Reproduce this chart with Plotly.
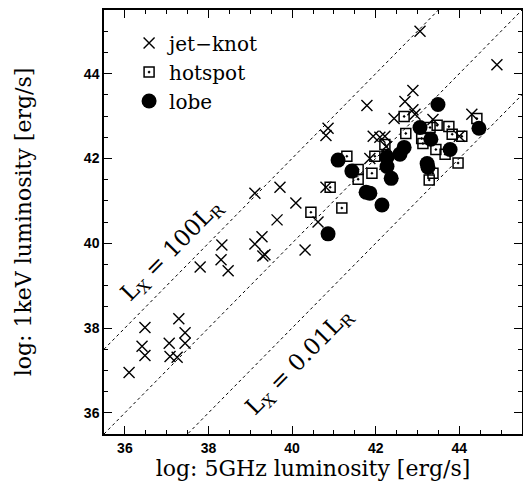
import plotly.graph_objects as go

# jet-knot
jet_x = [36.10, 36.48, 36.41, 36.48, 37.06, 37.08, 37.25, 37.29, 37.44, 37.44,
         37.80, 38.30, 38.47, 38.32, 39.11, 39.35, 39.30, 39.28, 39.64, 39.11,
         39.71, 40.09, 40.31, 40.62, 40.81, 40.81, 40.86, 41.79, 42.89, 42.70,
         42.89, 42.94, 42.44, 43.37, 44.30, 41.94, 42.10, 42.22, 44.00, 42.25,
         41.86, 43.06, 44.90, 42.22]
jet_y = [36.95, 38.01, 37.57, 37.35, 37.64, 37.33, 37.31, 38.22, 37.89, 37.64,
         39.44, 39.61, 39.35, 39.96, 39.98, 39.73, 39.70, 40.15, 40.55, 41.18,
         41.32, 40.95, 39.84, 40.50, 41.32, 42.54, 42.71, 43.25, 43.60, 43.34,
         43.15, 43.04, 42.94, 42.92, 43.04, 42.52, 42.50, 42.52, 42.52, 42.28,
         42.00, 45.00, 44.21, 41.86]

# hotspot
hot_x = [42.68, 42.72, 43.47, 43.75, 43.83, 44.06, 44.42, 43.30, 43.10, 43.13,
         43.44, 43.66, 43.97, 43.37, 43.28, 41.31, 41.58, 41.58, 41.91, 41.98,
         40.91, 40.45, 41.19, 42.22]
hot_y = [42.99, 42.59, 42.78, 42.75, 42.57, 42.52, 42.94, 42.73, 42.47, 42.35,
         42.21, 42.10, 41.89, 41.65, 41.49, 42.05, 41.74, 41.51, 41.65, 42.05,
         41.32, 40.73, 40.83, 42.33]

# lobe
lobe_x = [43.06, 43.32, 43.78, 44.47, 43.23, 43.25, 42.68, 42.58, 42.27, 42.27,
          42.37, 41.10, 41.43, 41.77, 41.86, 42.15, 40.86, 43.49]
lobe_y = [42.73, 42.45, 42.21, 42.71, 41.88, 41.79, 42.26, 42.10, 42.03, 41.81,
          41.53, 41.96, 41.70, 41.20, 41.18, 40.90, 40.22, 43.27]

# reference lines: log Lx = log Lr + offset
line_offsets = [2, 0, -2]
axis_range = [35.5, 45.5]
tick_vals = [36, 38, 40, 42, 44]

serif = "DejaVu Serif"
sans = "Liberation Sans"

fig = go.Figure()

for off in line_offsets:
    fig.add_trace(go.Scatter(
        x=axis_range, y=[v + off for v in axis_range], mode="lines",
        line=dict(color="black", width=1, dash="dot"),
        showlegend=False, hoverinfo="skip"))

fig.add_trace(go.Scatter(
    x=jet_x, y=jet_y, mode="markers", name="jet\u2212knot",
    marker=dict(symbol="x-thin-open", size=11, color="black",
                line=dict(color="black", width=1.4))))
fig.add_trace(go.Scatter(
    x=hot_x, y=hot_y, mode="markers", name="hotspot",
    marker=dict(symbol="square-open-dot", size=10, color="black",
                line=dict(color="black", width=1.5))))
fig.add_trace(go.Scatter(
    x=lobe_x, y=lobe_y, mode="markers", name="lobe",
    marker=dict(symbol="circle", size=15, color="black",
                line=dict(width=0))))

axis_common = dict(
    range=axis_range, tickvals=tick_vals, ticks="inside", ticklen=8,
    tickwidth=1, tickcolor="black", showline=True, linecolor="black",
    linewidth=1.5, mirror="allticks", showgrid=False, zeroline=False,
    tickfont=dict(family=sans, size=14, color="black", weight="bold"),
    minor=dict(dtick=0.5, ticks="inside", ticklen=4, tickcolor="black",
               tickwidth=1, showgrid=False),
)

fig.update_xaxes(**axis_common,
                 title=dict(text="log: 5GHz luminosity [erg/s]",
                            font=dict(family=serif, size=22, color="black"),
                            standoff=5))
fig.update_yaxes(**axis_common,
                 title=dict(text="log: 1keV luminosity [erg/s]",
                            font=dict(family=serif, size=22, color="black"),
                            standoff=46))

fig.add_annotation(x=37.13, y=39.82, text="L<sub>X</sub> = 100L<sub>R</sub>",
                   showarrow=False, textangle=-45.5,
                   font=dict(family=serif, size=23, color="black"))
fig.add_annotation(x=40.19, y=37.19, text="L<sub>X</sub> = 0.01L<sub>R</sub>",
                   showarrow=False, textangle=-45.5,
                   font=dict(family=serif, size=23, color="black"))

fig.update_layout(
    width=531, height=487,
    margin=dict(l=96, r=17, t=0, b=61),
    paper_bgcolor="white", plot_bgcolor="white",
    legend=dict(x=0.06, y=0.968, xanchor="left", yanchor="top",
                bgcolor="rgba(0,0,0,0)",
                font=dict(family=serif, size=20, color="black"),
                itemwidth=30, tracegroupgap=0),
)

fig.write_html("out.html")
